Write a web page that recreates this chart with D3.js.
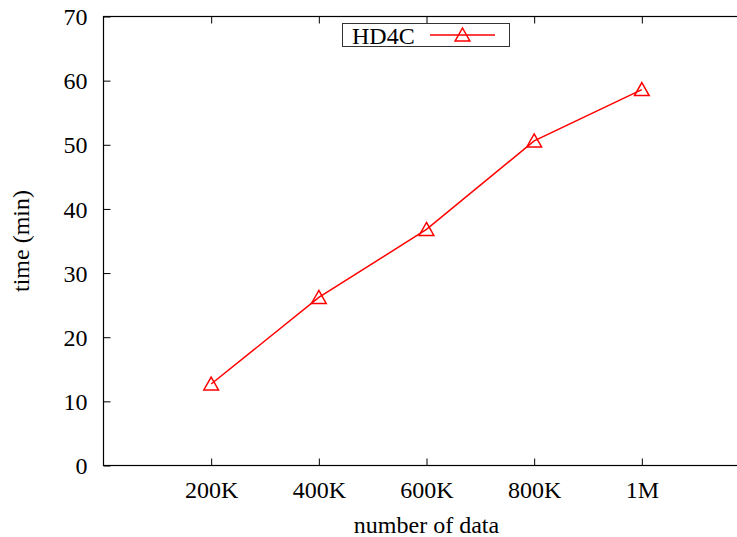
<!DOCTYPE html>
<html>
<head>
<meta charset="utf-8">
<script src="https://cdn.jsdelivr.net/npm/d3@7"></script>
<style>
  html, body { margin: 0; padding: 0; background: #fff; }
  svg { display: block; }
  text { font-family: "Liberation Serif", "Times New Roman", serif; fill: #000; }
</style>
</head>
<body>
<svg id="chart" width="737" height="537"></svg>
<script>
// Runtime of HD4C versus data size
const sizes = [200000, 400000, 600000, 800000, 1000000];
const sizeLabels = ["200K", "400K", "600K", "800K", "1M"];
const times = [12.7, 26.2, 36.8, 50.6, 58.6];
const yTicks = [0, 10, 20, 30, 40, 50, 60, 70];
const seriesName = "HD4C";

const svg = d3.select("#chart");

const x = d3.scaleLinear().domain([0, 1200000]).range([103.5, 749.5]);
const y = d3.scaleLinear().domain([0, 70]).range([465.5, 16.5]);

const red = "#ff0000";
const tickLen = 7;

// frame (right edge falls outside the canvas)
svg.append("rect")
  .attr("x", x(0)).attr("y", y(70))
  .attr("width", x(1200000) - x(0)).attr("height", y(0) - y(70))
  .attr("fill", "none").attr("stroke", "#000").attr("stroke-width", 1.2);

// y axis: inward ticks, labels on the left
const yAxis = d3.axisLeft(y).tickValues(yTicks).tickSizeInner(-tickLen).tickSizeOuter(0).tickPadding(tickLen + 9);
const gy = svg.append("g").attr("transform", `translate(${x(0)},0)`).call(yAxis);
gy.select(".domain").remove();
gy.selectAll("text").style("font-size", "24px").attr("dy", "0.34em");
gy.selectAll("line").attr("stroke", "#000");

// x axis: inward ticks at bottom, labels below
const xAxis = d3.axisBottom(x).tickValues(sizes).tickFormat((d, i) => sizeLabels[i])
  .tickSizeInner(-tickLen).tickSizeOuter(0).tickPadding(tickLen + 13);
const gx = svg.append("g").attr("transform", `translate(0,${y(0)})`).call(xAxis);
gx.select(".domain").remove();
gx.selectAll("text").style("font-size", "24px").attr("dy", "0.5em");
gx.selectAll("line").attr("stroke", "#000");

// mirrored ticks along the top border
const xTop = d3.axisTop(x).tickValues(sizes).tickFormat("").tickSizeInner(-tickLen).tickSizeOuter(0);
const gxt = svg.append("g").attr("transform", `translate(0,${y(70)})`).call(xTop);
gxt.select(".domain").remove();
gxt.selectAll("line").attr("stroke", "#000");

// axis titles
svg.append("text")
  .attr("x", (x(0) + x(1200000)) / 2).attr("y", 533)
  .attr("text-anchor", "middle").style("font-size", "24px")
  .text("number of data");
svg.append("text")
  .attr("transform", `translate(29,${(y(0) + y(70)) / 2}) rotate(-90)`)
  .attr("text-anchor", "middle").style("font-size", "24px")
  .text("time (min)");

// open triangle marker
const triPath = (cx, cy, s = 7) =>
  `M${cx},${cy - s}L${cx + s * 1.05},${cy + s * 0.85}L${cx - s * 1.05},${cy + s * 0.85}Z`;

// data line
const line = d3.line().x((d, i) => x(sizes[i])).y(d => y(d));
svg.append("path").datum(times)
  .attr("d", line).attr("fill", "none")
  .attr("stroke", red).attr("stroke-width", 1.5);

svg.selectAll("path.pt").data(times).enter().append("path")
  .attr("class", "pt")
  .attr("d", (d, i) => triPath(x(sizes[i]), y(d)))
  .attr("fill", "none").attr("stroke", red).attr("stroke-width", 1.5);

// legend
const lg = svg.append("g");
lg.append("rect")
  .attr("x", 342.5).attr("y", 23.5).attr("width", 167).attr("height", 23)
  .attr("fill", "#fff").attr("stroke", "#333").attr("stroke-width", 1);
lg.append("text")
  .attr("x", 352).attr("y", 43.5).style("font-size", "24px")
  .text(seriesName);
lg.append("line")
  .attr("x1", 430).attr("x2", 495).attr("y1", 35).attr("y2", 35)
  .attr("stroke", red).attr("stroke-width", 1.5);
lg.append("path")
  .attr("d", triPath(462.5, 35))
  .attr("fill", "none").attr("stroke", red).attr("stroke-width", 1.5);
</script>
</body>
</html>
